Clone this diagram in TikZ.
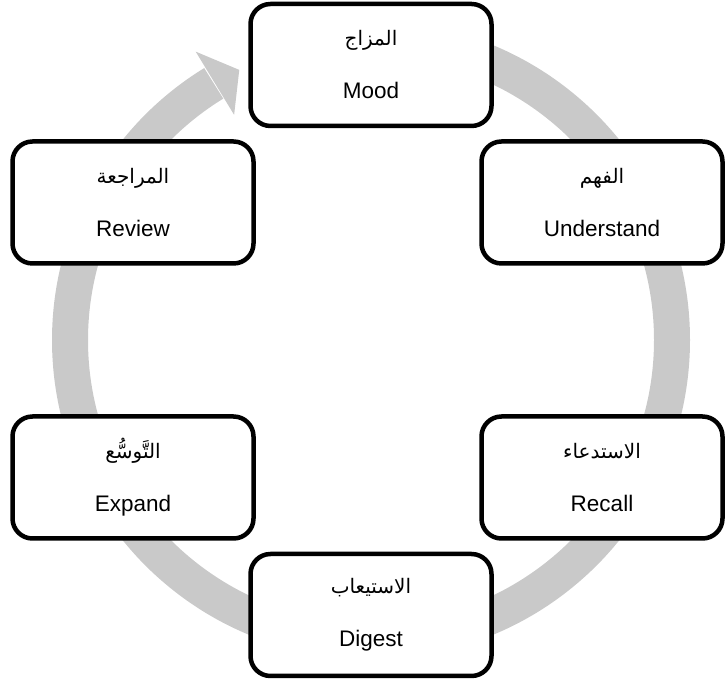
\documentclass[tikz,border=0pt]{standalone}
\usepackage{fontspec}
\setmainfont{Liberation Sans}
\newfontfamily\arabicfont[Script=Arabic]{DejaVu Sans}
\TeXXeTstate=1
\definecolor{arcgray}{RGB}{201,201,201}
\newcommand{\artext}[1]{{\arabicfont\fontsize{20}{24}\selectfont\beginR #1\endR}}
\begin{document}
\begin{tikzpicture}[x=1pt,y=1pt,
  stage/.style={draw=black, line width=4.5pt, fill=white, rounded corners=20pt,
    minimum width=241pt, minimum height=122pt, align=center,
    font=\fontsize{22.5}{27}\selectfont, inner sep=0pt},
  cyclearc/.style={draw=arcgray, line width=36pt, line cap=butt},
  cyclehead/.style={fill=arcgray}]
\useasboundingbox (0,0) rectangle (726,684);
\begin{scope}[shift={(371,344)}]
  \coordinate (arcstart) at (90:301);
  \coordinate (headtip) at (116:300.5);
  \coordinate (headouter) at (121.3:337.5);
  \coordinate (headinner) at (121.3:263.5);
  \draw[cyclearc] (arcstart) arc[start angle=90, end angle=-238.5, radius=301];
  \fill[cyclehead] (headtip) -- (headouter) -- (headinner) -- cycle;
\end{scope}
\node[stage] (mood)   at (371,619)   {\artext{المزاج}\\[26pt] Mood};
\node[stage] (under)  at (602,481.5) {\artext{الفهم}\\[26pt] Understand};
\node[stage] (recall) at (602,206.5) {\artext{الاستدعاء}\\[26pt] Recall};
\node[stage] (digest) at (371,69)    {\artext{الاستيعاب}\\[26pt] Digest};
\node[stage] (expand) at (133,206.5) {\artext{التَّوسُّع}\\[26pt] Expand};
\node[stage] (review) at (133,481.5) {\artext{المراجعة}\\[26pt] Review};
\end{tikzpicture}
\end{document}
